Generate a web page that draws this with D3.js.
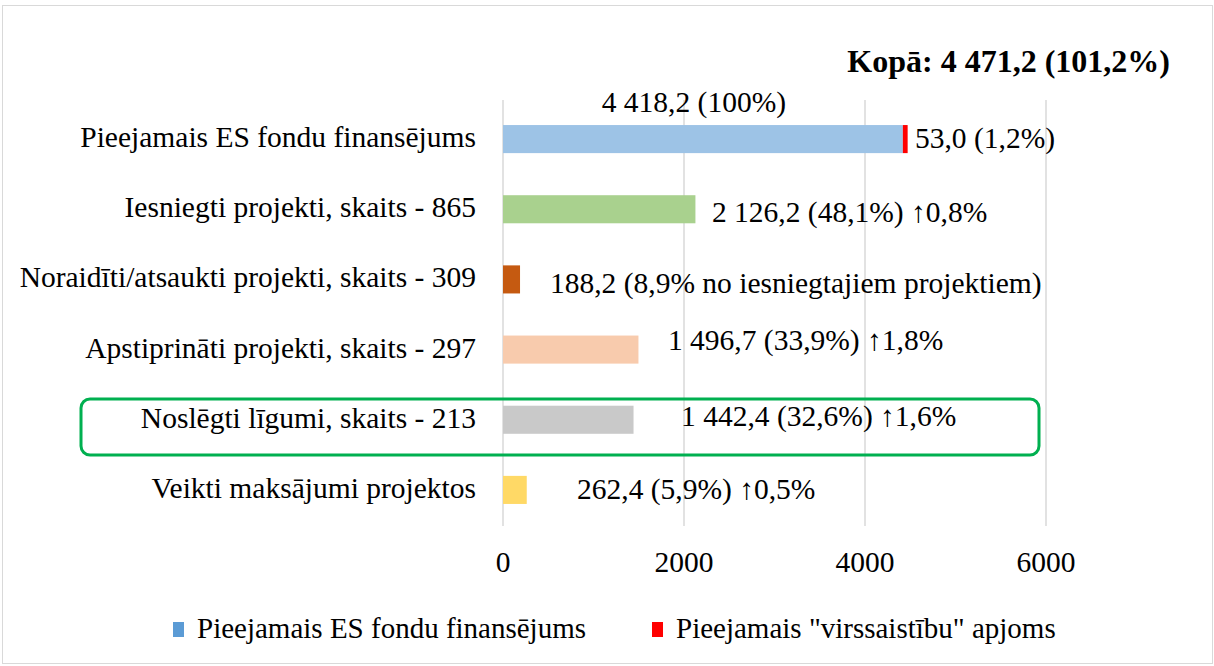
<!DOCTYPE html>
<html lang="lv">
<head>
<meta charset="UTF-8">
<title>ES fondu finansējums</title>
<script src="https://cdn.jsdelivr.net/npm/d3@7/dist/d3.min.js"></script>
<style>
    body { margin: 0; background: #fff; }
    svg text { font-family: "Liberation Serif", "Times New Roman", serif; fill: #000; }
</style>
</head>
<body>
<svg id="chart"></svg>
<script>
    // data
    const categories = [
        "Pieejamais ES fondu finansējums",
        "Iesniegti projekti, skaits - 865",
        "Noraidīti/atsaukti projekti, skaits - 309",
        "Apstiprināti projekti, skaits - 297",
        "Noslēgti līgumi, skaits - 213",
        "Veikti maksājumi projektos"
    ];
    const values = [4418.2, 2126.2, 188.2, 1496.7, 1442.4, 262.4];
    const overCommit = [53.0, 0, 0, 0, 0, 0];
    const barColors = ["#9DC3E6", "#A9D18E", "#C55A11", "#F8CBAD", "#C9C9C9", "#FFD966"];
    const valueLabels = [
        "53,0 (1,2%)",
        "2 126,2 (48,1%) ↑0,8%",
        "188,2 (8,9% no iesniegtajiem projektiem)",
        "1 496,7 (33,9%) ↑1,8%",
        "1 442,4 (32,6%) ↑1,6%",
        "262,4 (5,9%) ↑0,5%"
    ];
    // label anchor (data units) where the labels were dragged in Excel
    const labelAt = [4552, 2309, 519, 1823, 1967, 818];
    const labelDy = [9, 13, 14, 0, 6, 9];
    const ticks = [0, 2000, 4000, 6000];
    const legendNames = ["Pieejamais ES fondu finansējums", "Pieejamais \"virssaistību\" apjoms"];
    const legendColors = ["#5B9BD5", "#FF0000"];

    const W = 1214, H = 666, FS = 29.5;
    const svg = d3.select("#chart").attr("width", W).attr("height", H);

    svg.append("rect")
        .attr("x", 2.5).attr("y", 5.5)
        .attr("width", W - 4).attr("height", H - 8)
        .attr("fill", "#fff").attr("stroke", "#D9D9D9");

    const x = d3.scaleLinear().domain([0, 6000]).range([503, 1046]);
    const y = d3.scaleBand().domain(categories).range([104, 525]).paddingInner(0.6).paddingOuter(0.3);

    // gridlines
    svg.append("g").selectAll("line").data(ticks).join("line")
        .attr("x1", d => x(d)).attr("x2", d => x(d))
        .attr("y1", 100).attr("y2", 526)
        .attr("stroke", "#D9D9D9").attr("stroke-width", 1.5);

    // tick labels
    svg.append("g").selectAll("text").data(ticks).join("text")
        .attr("x", d => x(d)).attr("y", 572)
        .attr("text-anchor", "middle")
        .attr("font-size", FS)
        .text(d => d);

    // bars
    svg.append("g").selectAll("rect").data(values).join("rect")
        .attr("x", x(0))
        .attr("y", (d, i) => y(categories[i]))
        .attr("width", d => x(d) - x(0))
        .attr("height", y.bandwidth())
        .attr("fill", (d, i) => barColors[i]);

    svg.append("g").selectAll("rect").data(overCommit).join("rect")
        .filter(d => d > 0)
        .attr("x", (d, i) => x(values[i]))
        .attr("y", (d, i) => y(categories[i]))
        .attr("width", d => x(d) - x(0))
        .attr("height", y.bandwidth())
        .attr("fill", "#FF0000");

    // category labels
    svg.append("g").selectAll("text").data(categories).join("text")
        .attr("x", 476)
        .attr("y", d => y(d) + y.bandwidth() / 2 + 8)
        .attr("text-anchor", "end")
        .attr("font-size", FS)
        .text(d => d);

    // value labels
    svg.append("g").selectAll("text").data(valueLabels).join("text")
        .attr("x", (d, i) => x(labelAt[i]))
        .attr("y", (d, i) => y(categories[i]) + y.bandwidth() / 2 + labelDy[i])
        .attr("font-size", FS)
        .text(d => d);

    svg.append("text")
        .attr("x", x(values[0] / 2) - 9).attr("y", 112)
        .attr("text-anchor", "middle")
        .attr("font-size", FS)
        .text("4 418,2 (100%)");

    svg.append("text")
        .attr("x", 1170).attr("y", 72)
        .attr("text-anchor", "end")
        .attr("font-size", 32).attr("font-weight", "bold")
        .text("Kopā: 4 471,2 (101,2%)");

    // highlight box
    svg.append("rect")
        .attr("x", 81).attr("y", 399)
        .attr("width", 958).attr("height", 56)
        .attr("rx", 9)
        .attr("fill", "none").attr("stroke", "#00B050").attr("stroke-width", 3);

    // legend
    const lg = svg.append("g").selectAll("g").data(legendNames).join("g")
        .attr("transform", (d, i) => `translate(${[173, 652][i]},638)`);
    lg.append("rect").attr("x", 0).attr("y", -16).attr("width", 11).attr("height", 15)
        .attr("fill", (d, i) => legendColors[i]);
    lg.append("text").attr("x", 24).attr("y", 0)
        .attr("font-size", 29).text(d => d);
</script>
</body>
</html>
